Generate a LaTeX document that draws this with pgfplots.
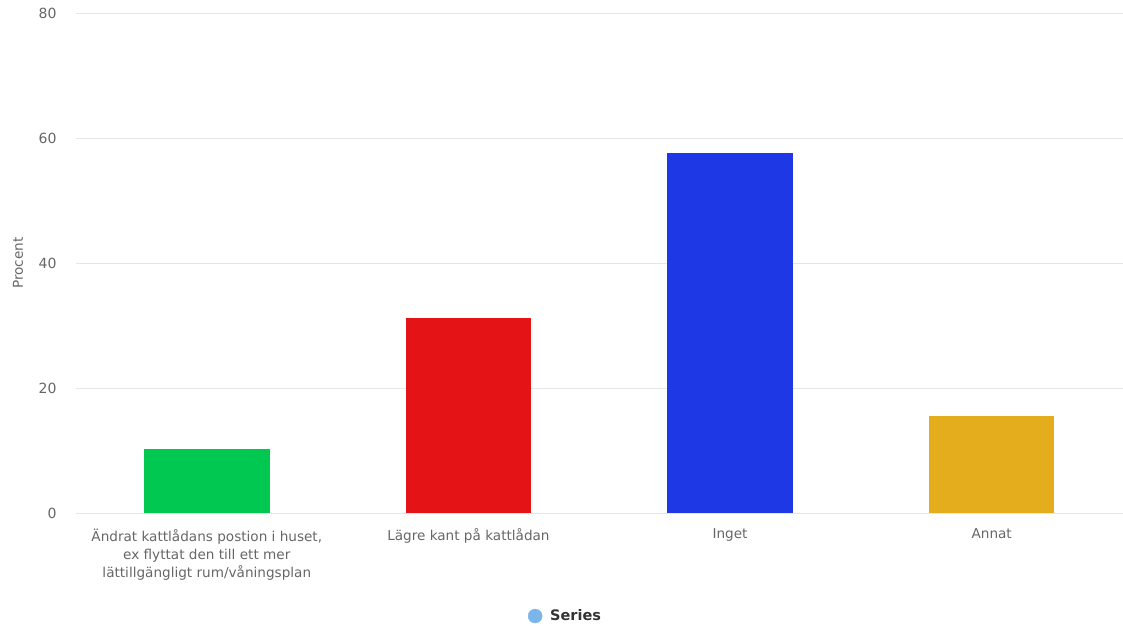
\documentclass[border=0pt]{standalone}
\usepackage{pgfplots}
\pgfplotsset{compat=1.18}
\usepackage{fontspec}
\setmainfont{DejaVu Sans}
\definecolor{cgreen}{RGB}{0,200,80}
\definecolor{cred}{RGB}{228,20,22}
\definecolor{cblue}{RGB}{30,56,230}
\definecolor{cgold}{RGB}{227,173,30}
\definecolor{grid}{RGB}{230,230,230}
\definecolor{txt}{RGB}{102,102,102}
\definecolor{legtxt}{RGB}{51,51,51}
\definecolor{legdot}{RGB}{124,181,236}
\begin{document}
\begin{tikzpicture}[x=1pt,y=1pt]
\begin{axis}[
  scale only axis,
  width=1047pt, height=500pt,
  xmin=-0.5, xmax=3.5,
  ymin=0, ymax=80,
  ytick={0,20,40,60,80},
  xtick={0,1,2,3},
  xticklabels={{Ändrat kattlådans postion i huset,\\ex flyttat den till ett mer\\lättillgängligt rum/våningsplan},{Lägre kant på kattlådan},{Inget},{Annat}},
  x tick label style={align=center, font=\fontsize{13.6}{18.5}\selectfont, text=txt, yshift=-12pt},
  y tick label style={font=\fontsize{14}{16}\selectfont, text=txt, xshift=-16pt},
  /pgf/number format/assume math mode=true,
  ymajorgrids, grid style={draw=grid, line width=1pt},
  major tick length=0pt,
  xtick style={draw=none}, ytick style={draw=none},
  axis line style={draw=none},
  ylabel={Procent},
  every axis y label/.style={at={([xshift=-58pt]rel axis cs:0,0.5)}, anchor=center, rotate=90, font=\fontsize{13.6}{16}\selectfont, text=txt},
  clip=false,
  legend style={at={([xshift=4pt,yshift=-103pt]rel axis cs:0.464,0)}, anchor=center, draw=none, fill=none, font=\fontsize{14.5}{16}\selectfont\bfseries, text=legtxt, legend cell align=left},
]
\addplot[ybar, bar width=0.48, bar shift=0pt, fill=cgreen, draw=none, forget plot] coordinates {(0,10.3)};
\addplot[ybar, bar width=0.48, bar shift=0pt, fill=cred, draw=none, forget plot] coordinates {(1,31.3)};
\addplot[ybar, bar width=0.48, bar shift=0pt, fill=cblue, draw=none, forget plot] coordinates {(2,57.6)};
\addplot[ybar, bar width=0.48, bar shift=0pt, fill=cgold, draw=none, forget plot] coordinates {(3,15.6)};
\addlegendimage{only marks, mark=*, mark size=7pt, color=legdot}
\addlegendentry{\hspace{6pt}Series}
\draw[grid, line width=1pt] (rel axis cs:0,0) -- (rel axis cs:1,0);
\useasboundingbox (rel axis cs:0,0) ++(-76pt,-113.7pt) rectangle ([yshift=13.3pt]rel axis cs:1,1);
\end{axis}
\end{tikzpicture}
\end{document}
